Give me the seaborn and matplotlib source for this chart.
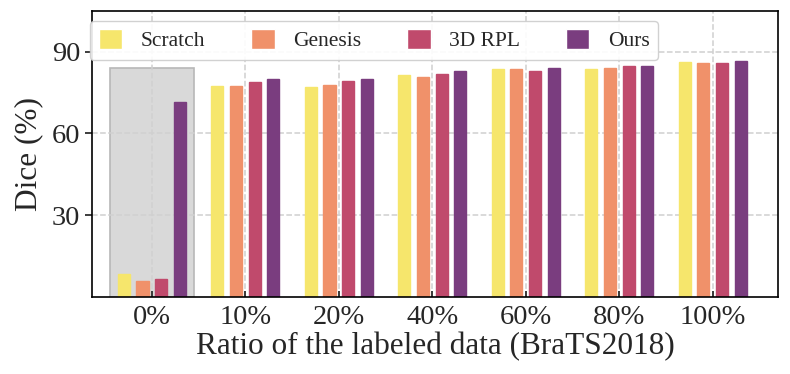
import seaborn as sns
import matplotlib.pyplot as plt
import pandas as pd
from matplotlib.patches import Rectangle

# data
ratios = ['0%', '10%', '20%', '40%', '60%', '80%', '100%']
methods = ['Scratch', 'Genesis', '3D RPL', 'Ours']
scratch = [8.5, 77.3, 77.2, 81.6, 83.6, 83.8, 86.1]
genesis = [6.0, 77.6, 77.7, 80.6, 83.8, 84.2, 85.8]
rpl3d = [6.6, 79.0, 79.2, 81.9, 83.0, 84.6, 85.8]
ours = [71.7, 80.0, 80.1, 82.8, 84.2, 84.7, 86.7]
colors = ['#f6e66c', '#f0916a', '#c04a6c', '#7a3d7f']

#build a long table for seaborn
rows = []
for name, vals in zip(methods, [scratch, genesis, rpl3d, ours]):
    for r, v in zip(ratios, vals):
        rows.append({'ratio': r, 'method': name, 'dice': v})
df = pd.DataFrame(rows)

sns.set_theme(style='ticks')
plt.rcParams['font.family'] = ['Liberation Serif', 'DejaVu Serif']

fig = plt.figure(figsize=(7.9, 3.74), dpi=100)
ax = fig.add_axes([0.1165, 0.206, 0.8685, 0.765])

#shaded box behind the 0% group
ax.add_patch(Rectangle((-0.45, 0), 0.9, 84, facecolor='#d9d9d9',
                       edgecolor='#b8b8b8', linewidth=1.2, zorder=0.5))

sns.barplot(data=df, x='ratio', y='dice', hue='method', palette=colors,
            width=0.8, gap=0.35, saturation=1, linewidth=1,
            ax=ax, zorder=2)
for bars, c in zip(ax.containers, colors):
    for b in bars:
        b.set_edgecolor(c)

ax.set_ylim(0, 105)
ax.set_xlim(-0.64, 6.7)
ax.set_yticks([30, 60, 90])
ax.grid(True, linestyle='--', color='#d0d0d0', linewidth=1.1, zorder=0)
ax.set_axisbelow(True)
for s in ax.spines.values():
    s.set_color('black')
    s.set_linewidth(1.2)
ax.tick_params(axis='x', direction='in', length=4, labelsize=20.5, pad=6)
ax.tick_params(axis='y', direction='out', length=5, labelsize=20.5)
ax.set_xlabel('Ratio of the labeled data (BraTS2018)', fontsize=22.5, labelpad=1)
ax.set_ylabel('Dice (%)', fontsize=22.5, labelpad=6)

ax.legend(loc='upper left', ncol=4, fontsize=15.5, frameon=True,
          bbox_to_anchor=(-0.003, 0.965), borderaxespad=0,
          handlelength=1.1, handleheight=1.0, handletextpad=0.85,
          columnspacing=2.13, borderpad=0.4, fancybox=True, framealpha=0.9,
          edgecolor='#cccccc')

fig.savefig('out.png', dpi=100)
